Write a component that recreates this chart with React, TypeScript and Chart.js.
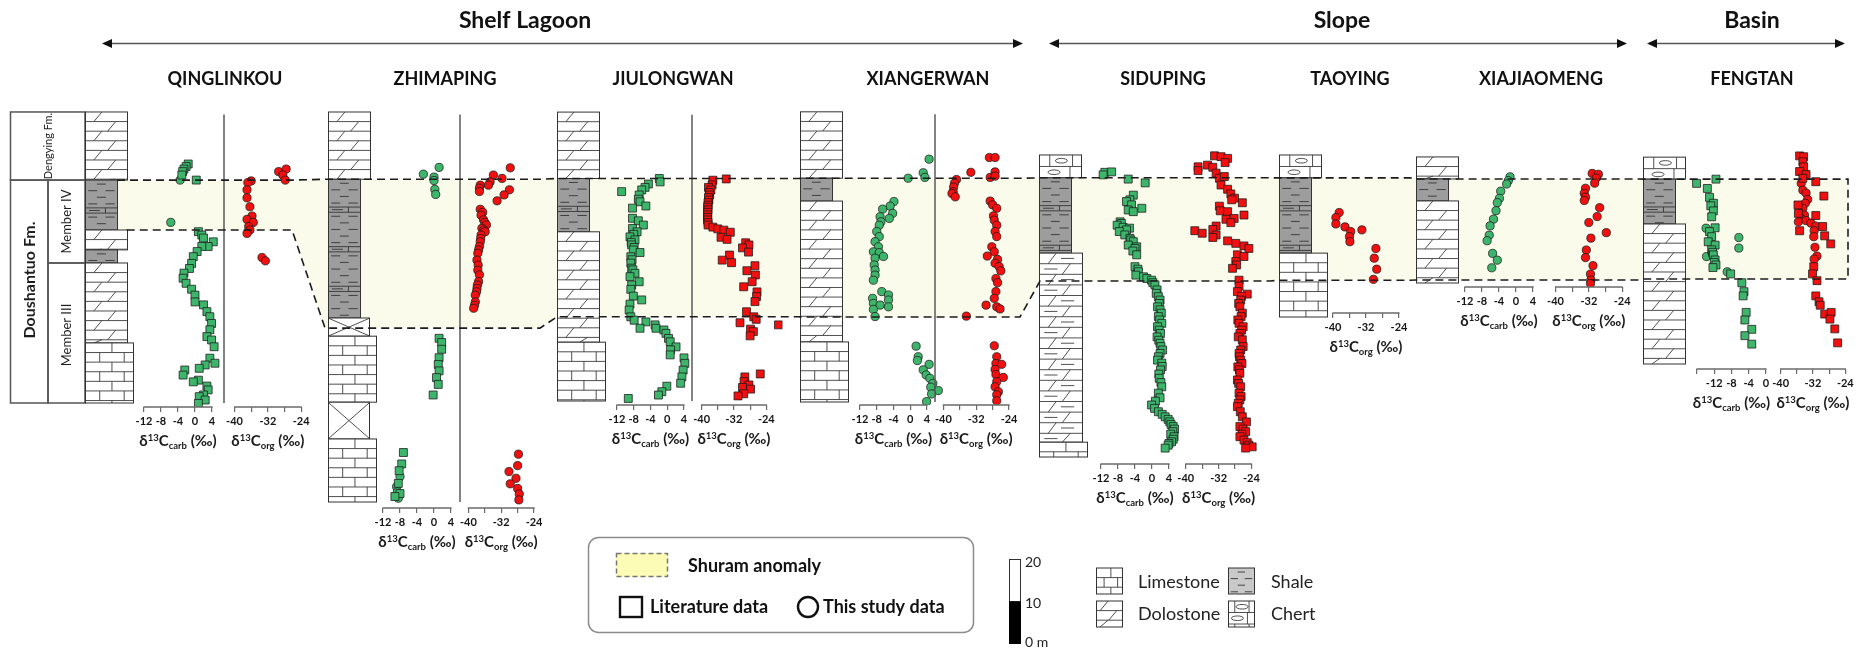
import React, { useEffect, useRef } from 'react';
import { Chart, registerables } from 'chart.js';

Chart.register(...registerables);

type Pt = [number, number]; // [delta13C (permil), height above section base (m)]
type Unit = [number, number, string]; // [top m, base m, lithology]

// ---------------- text / tick labels ----------------
const REGION_NAMES = ['Shelf Lagoon', 'Slope', 'Basin'];
const SECTION_NAMES = ['QINGLINKOU', 'ZHIMAPING', 'JIULONGWAN', 'XIANGERWAN', 'SIDUPING', 'TAOYING', 'XIAJIAOMENG', 'FENGTAN'];
const STRAT_LABELS = ['Dengying Fm.', 'Doushantuo Fm.', 'Member IV', 'Member III'];
const LEGEND_TEXT = ['Shuram anomaly', 'Literature data', 'This study data'];
const LITH_LEGEND = ['Limestone', 'Dolostone', 'Shale', 'Chert'];
const SCALE_BAR_LABELS = ['20', '10', '0 m'];
const CARB_TICKS = [-12, -8, -4, 0, 4];
const CARB_LABELS = [-12, -8, -4, 0, 4];
const ORG_TICKS = [-40, -36, -32, -28, -24];
const ORG_LABELS = [-40, -32, -24];
const FT_CARB_TICKS = [-16, -12, -8, -4, 0];
const FT_CARB_LABELS = [-12, -8, -4, 0];

// ---------------- lithology (m above base) ----------------
const QLK_LITH: Unit[] = [[68.8, 52.7, 'dolo'], [52.7, 40.9, 'shale'], [40.9, 36.2, 'dolo'], [36.2, 33.1, 'shale'], [33.1, 14.2, 'dolo'], [14.2, 0, 'lime']];
const ZMP_LITH: Unit[] = [[92.2, 76.3, 'dolo'], [76.3, 43.5, 'shale'], [43.5, 39.2, 'cover'], [39.2, 23.6, 'lime'], [23.6, 14.9, 'cover'], [14.9, 0, 'lime']];
const JLW_LITH: Unit[] = [[68.3, 52.6, 'dolo'], [52.6, 40.0, 'shale'], [40.0, 13.9, 'dolo'], [13.9, 0, 'lime']];
const XEW_LITH: Unit[] = [[68.6, 52.9, 'dolo'], [52.9, 47.5, 'shale'], [47.5, 14.2, 'dolo'], [14.2, 0, 'lime']];
const SDP_LITH: Unit[] = [[71.4, 66.0, 'chert'], [66.0, 48.2, 'shale'], [48.2, 3.5, 'argDolo'], [3.5, 0, 'lime']];
const TY_LITH: Unit[] = [[38.3, 32.9, 'chert'], [32.9, 15.1, 'shale'], [15.1, 0, 'lime']];
const XJM_LITH: Unit[] = [[29.8, 24.6, 'dolo'], [24.6, 19.4, 'shale'], [19.4, 0, 'dolo']];
const FT_LITH: Unit[] = [[48.9, 43.7, 'chert'], [43.7, 33.1, 'shale'], [33.1, 0, 'dolo']];

// Shuram anomaly interval per section (m)
const SHURAM_TOP = [52.7, 76.3, 52.6, 52.9, 66.0, 32.9, 24.6, 43.7];
const SHURAM_BASE = [40.9, 41.1, 19.9, 20.1, 41.6, 8.7, 0.7, 20.1];

// ---------------- isotope data ----------------
const QLK_CARB_LIT: Pt[] = [[-1.6, 56.5], [-2.1, 55.9], [-2.6, 55.3], [-2.9, 54.7], [-3.1, 53.9], [0.3, 52.7], [0.8, 40.5], [1.6, 39.7], [2.0, 39.0], [4.3, 38.1], [3.1, 37.0], [1.6, 37.0], [0.5, 35.8], [-0.4, 34.6], [-0.8, 33.0], [-1.3, 31.8], [-2.6, 30.7], [-2.8, 29.5], [-2.1, 28.3], [-0.8, 26.9], [0.0, 25.5], [0.0, 23.9], [2.0, 23.2], [2.8, 21.6], [3.5, 20.4], [3.9, 18.8], [3.5, 17.3], [2.8, 15.7], [3.9, 14.9], [4.5, 13.3], [3.5, 10.6], [4.7, 9.4], [2.4, 9.0], [1.0, 8.2], [-2.4, 7.8], [-2.8, 6.6], [0.8, 5.4], [-0.4, 5.0], [2.8, 4.0], [3.1, 3.1], [2.0, 1.9], [1.0, 1.5], [2.4, 0.7], [0.8, -0.1]];
const QLK_CARB_NEW: Pt[] = [[-3.5, 52.7], [-5.7, 42.7]];
const QLK_ORG_LIT: Pt[] = [];
const QLK_ORG_NEW: Pt[] = [[-29.4, 54.7], [-27.6, 55.3], [-28.4, 53.9], [-27.8, 52.7], [-36.0, 52.5], [-36.8, 52.1], [-37.0, 50.4], [-37.0, 48.5], [-36.3, 46.4], [-35.8, 44.2], [-37.0, 43.4], [-35.5, 42.7], [-36.6, 41.7], [-36.3, 40.9], [-37.0, 40.1], [-33.4, 34.4], [-32.6, 33.6]];

const ZMP_CARB_LIT: Pt[] = [[1.2, 38.7], [1.8, 37.7], [1.8, 36.1], [1.2, 34.1], [1.0, 32.5], [1.2, 31.0], [0.6, 29.4], [1.0, 27.8], [-0.2, 25.3], [-7.2, 11.7], [-7.6, 9.0], [-8.2, 7.4], [-8.4, 4.4], [-8.0, 2.0], [-9.2, 1.3]];
const ZMP_CARB_NEW: Pt[] = [[1.2, 79.1], [-2.5, 77.5], [0.0, 76.8], [0.0, 76.0], [0.2, 73.9], [0.4, 72.7], [-8.0, 6.0], [-8.8, 3.6], [-8.6, 2.4], [-8.4, 0.9]];
const ZMP_ORG_LIT: Pt[] = [];
const ZMP_ORG_NEW: Pt[] = [[-29.8, 79.0], [-33.9, 77.3], [-31.8, 76.5], [-34.7, 75.7], [-35.1, 74.9], [-37.1, 74.9], [-37.3, 74.2], [-37.3, 73.4], [-30.0, 73.8], [-31.3, 72.6], [-33.0, 71.2], [-37.1, 69.2], [-36.5, 68.5], [-36.9, 67.8], [-36.3, 66.7], [-36.0, 66.1], [-35.6, 65.5], [-36.7, 64.7], [-36.2, 64.3], [-35.9, 63.9], [-36.9, 63.1], [-37.0, 62.3], [-37.1, 61.5], [-37.3, 60.4], [-37.5, 59.6], [-37.7, 58.8], [-37.9, 57.2], [-37.6, 56.0], [-37.7, 54.8], [-37.3, 53.7], [-37.5, 52.1], [-37.8, 51.3], [-37.9, 50.5], [-38.0, 49.7], [-38.3, 48.9], [-38.3, 47.3], [-38.5, 46.5], [-38.7, 45.8], [-27.8, 11.3], [-28.0, 8.6], [-30.1, 7.2], [-28.4, 5.6], [-29.8, 4.3], [-28.0, 3.2], [-27.6, 1.9], [-27.7, 0.5]];

const JLW_CARB_LIT: Pt[] = [[-1.9, 52.6], [-1.7, 51.8], [-4.5, 51.3], [-5.3, 50.5], [-6.1, 49.9], [-10.9, 49.5], [-6.7, 48.7], [-6.9, 47.7], [-6.5, 47.1], [-5.1, 46.1], [-8.3, 45.6], [-8.3, 43.2], [-6.9, 42.6], [-5.7, 41.6], [-8.3, 40.8], [-7.2, 40.0], [-8.0, 39.4], [-8.9, 38.8], [-7.7, 38.1], [-8.6, 37.5], [-8.5, 36.9], [-7.9, 36.3], [-8.1, 35.7], [-6.5, 35.1], [-8.7, 34.1], [-8.4, 33.4], [-8.7, 32.6], [-8.5, 31.4], [-8.2, 31.0], [-7.7, 30.2], [-8.9, 29.4], [-6.7, 28.2], [-8.5, 27.4], [-8.7, 26.4], [-8.1, 24.8], [-6.1, 23.9], [-8.9, 22.9], [-9.1, 21.5], [-8.7, 19.9], [-7.9, 19.1], [-5.1, 18.7], [-2.9, 18.0], [-6.5, 17.2], [-2.7, 17.2], [-0.8, 16.8], [-0.3, 16.0], [0.3, 14.8], [0.7, 14.0], [2.1, 12.8], [0.8, 12.1], [0.7, 10.9], [4.0, 10.2], [4.2, 8.9], [3.8, 7.3], [3.5, 5.7], [3.2, 4.2], [-0.1, 3.5], [-1.3, 2.2], [-2.1, 1.4], [-9.3, 0.6]];
const JLW_CARB_NEW: Pt[] = [];
const JLW_ORG_LIT: Pt[] = [[-37.2, 52.2], [-33.9, 52.5], [-37.4, 51.1], [-38.3, 50.5], [-37.7, 49.9], [-38.1, 49.3], [-38.0, 48.7], [-38.3, 48.1], [-38.2, 47.5], [-38.4, 46.9], [-38.4, 46.3], [-38.5, 45.8], [-38.4, 45.2], [-38.5, 44.6], [-38.5, 44.0], [-38.5, 43.4], [-38.5, 42.8], [-38.4, 42.2], [-38.4, 41.6], [-37.2, 41.1], [-36.0, 40.7], [-34.5, 40.4], [-32.9, 39.9], [-35.2, 38.7], [-33.7, 38.2], [-29.1, 37.4], [-28.3, 36.9], [-29.9, 36.2], [-28.4, 35.2], [-33.1, 34.5], [-34.9, 33.3], [-32.6, 32.7], [-26.8, 32.0], [-28.8, 30.8], [-26.7, 29.8], [-27.5, 28.2], [-29.6, 27.0], [-26.3, 25.8], [-26.4, 24.7], [-26.8, 23.5], [-28.9, 21.1], [-27.1, 19.9], [-26.5, 19.3], [-30.5, 18.5], [-21.0, 18.0], [-27.9, 17.0], [-27.2, 16.4], [-28.0, 15.4], [-25.5, 6.4], [-29.3, 5.7], [-29.5, 4.6], [-28.3, 3.8], [-29.9, 3.2], [-27.9, 2.8], [-29.6, 1.7], [-31.0, 1.2]];
const JLW_ORG_NEW: Pt[] = [];

const XEW_CARB_LIT: Pt[] = [];
const XEW_CARB_NEW: Pt[] = [[4.5, 57.4], [3.1, 54.2], [3.5, 53.1], [-0.5, 52.9], [-3.9, 47.4], [-4.8, 46.3], [-6.6, 45.6], [-4.2, 44.6], [-5.0, 43.4], [-7.2, 43.8], [-7.0, 42.6], [-7.4, 41.8], [-8.0, 40.3], [-7.4, 39.1], [-8.4, 37.9], [-7.6, 36.7], [-8.8, 35.5], [-7.4, 35.3], [-6.4, 34.4], [-8.4, 34.0], [-8.6, 32.4], [-8.4, 31.2], [-8.4, 30.0], [-8.8, 28.8], [-6.8, 26.1], [-5.2, 25.3], [-5.2, 24.1], [-9.0, 24.5], [-8.8, 23.3], [-7.2, 22.9], [-5.2, 22.5], [-8.8, 21.9], [-8.4, 20.2], [1.4, 13.2], [1.9, 10.7], [1.7, 9.8], [4.5, 8.9], [3.1, 7.6], [3.8, 6.4], [4.7, 5.6], [5.4, 4.4], [4.9, 3.5], [6.7, 2.7], [5.1, 1.9], [3.9, 0.1]];
const XEW_ORG_LIT: Pt[] = [];
const XEW_ORG_NEW: Pt[] = [[-28.8, 57.8], [-27.4, 57.8], [-33.3, 54.3], [-27.4, 54.4], [-28.6, 53.1], [-27.4, 53.4], [-36.8, 52.6], [-37.3, 51.7], [-37.5, 50.8], [-37.6, 49.7], [-37.9, 49.3], [-37.1, 48.5], [-28.6, 47.5], [-28.0, 46.6], [-27.0, 45.8], [-27.8, 44.0], [-27.6, 43.0], [-27.0, 41.8], [-27.4, 40.3], [-27.0, 39.1], [-28.2, 36.7], [-27.6, 35.5], [-29.3, 34.5], [-26.8, 33.7], [-27.4, 32.8], [-26.4, 32.0], [-26.0, 31.0], [-27.2, 29.2], [-26.8, 28.2], [-27.2, 26.1], [-27.6, 24.5], [-29.6, 22.9], [-27.0, 22.5], [-26.2, 22.0], [-34.4, 20.3], [-27.6, 13.3], [-27.0, 10.7], [-27.2, 9.1], [-25.8, 8.9], [-27.4, 7.7], [-27.2, 6.5], [-25.4, 5.8], [-27.0, 4.8], [-27.4, 3.6], [-26.6, 2.4], [-27.0, 1.7], [-27.0, 0.3]];

const SDP_CARB_LIT: Pt[] = [[-11.1, 67.3], [-9.5, 67.4], [-11.5, 66.7], [-5.6, 65.7], [-1.6, 64.8], [-4.4, 61.9], [-5.2, 60.8], [-6.0, 60.4], [-4.8, 59.6], [-2.4, 58.8], [-5.6, 58.4], [-4.4, 58.0], [-7.5, 55.6], [-7.2, 55.2], [-8.2, 54.8], [-6.8, 54.3], [-5.3, 54.1], [-6.0, 53.7], [-7.7, 53.3], [-6.4, 52.5], [-5.2, 51.7], [-5.0, 51.3], [-4.4, 50.9], [-5.6, 50.1], [-3.6, 49.7], [-4.0, 49.3], [-4.5, 48.7], [-3.6, 47.8], [-4.0, 45.0], [-3.3, 44.4], [-3.2, 43.8], [-3.8, 43.0], [-2.0, 42.6], [-1.2, 42.2], [-0.1, 41.8], [0.2, 41.2], [0.7, 40.7], [1.2, 39.5], [1.0, 38.7], [1.5, 37.9], [1.9, 37.1], [1.7, 36.3], [1.3, 35.5], [1.9, 34.8], [2.2, 34.0], [1.5, 33.2], [1.8, 32.4], [2.3, 31.6], [1.3, 30.8], [1.7, 30.0], [2.0, 29.2], [1.2, 28.4], [1.6, 27.6], [1.9, 26.9], [2.1, 26.1], [2.5, 25.3], [1.9, 24.5], [1.5, 23.7], [1.3, 22.9], [2.3, 22.2], [2.4, 21.4], [2.0, 20.6], [1.6, 19.6], [1.7, 18.6], [2.1, 17.6], [2.3, 16.6], [1.5, 15.1], [1.9, 14.0], [0.8, 13.2], [-0.1, 12.3], [0.6, 11.5], [1.5, 10.7], [2.4, 10.1], [3.1, 9.5], [3.8, 8.9], [4.2, 8.3], [4.5, 7.7], [5.0, 7.2], [5.3, 6.6], [4.9, 6.0], [4.4, 5.4], [5.2, 4.8], [5.0, 4.2], [4.6, 3.6], [4.0, 3.2], [3.8, 2.8], [3.1, 2.1]];
const SDP_CARB_NEW: Pt[] = [];
const SDP_ORG_LIT: Pt[] = [[-33.0, 71.2], [-31.4, 71.0], [-29.8, 70.6], [-30.4, 69.6], [-34.7, 69.0], [-37.0, 68.6], [-37.0, 67.7], [-33.4, 68.5], [-32.6, 67.1], [-31.8, 65.9], [-30.6, 66.3], [-31.4, 64.3], [-29.8, 63.3], [-29.0, 62.2], [-28.1, 61.2], [-26.2, 60.1], [-28.8, 60.8], [-31.8, 59.3], [-31.6, 58.2], [-29.8, 58.0], [-25.8, 57.2], [-30.2, 56.2], [-28.2, 56.4], [-29.0, 55.4], [-32.6, 54.6], [-33.4, 53.8], [-37.8, 53.5], [-36.0, 52.9], [-32.6, 52.5], [-33.4, 51.9], [-29.8, 51.1], [-27.8, 50.5], [-25.8, 49.9], [-24.6, 49.3], [-27.4, 47.8], [-25.8, 47.4], [-27.8, 46.2], [-27.6, 45.4], [-28.6, 44.6], [-27.0, 41.8], [-27.0, 40.4], [-27.4, 39.1], [-25.0, 38.5], [-26.4, 38.0], [-26.6, 37.1], [-27.1, 36.3], [-26.8, 35.5], [-26.2, 34.0], [-26.5, 33.2], [-27.3, 32.4], [-27.0, 31.6], [-26.0, 30.8], [-26.4, 30.0], [-26.8, 29.2], [-27.2, 28.4], [-26.2, 27.7], [-26.0, 26.1], [-26.6, 25.3], [-27.0, 24.5], [-26.9, 23.7], [-26.6, 22.9], [-26.3, 22.1], [-27.3, 21.3], [-26.9, 20.6], [-26.8, 19.8], [-27.4, 18.2], [-27.1, 17.4], [-26.6, 16.6], [-27.0, 15.1], [-26.5, 14.3], [-26.8, 13.5], [-27.2, 12.7], [-27.4, 11.9], [-26.7, 10.7], [-26.2, 9.5], [-25.2, 8.3], [-26.8, 7.2], [-26.0, 6.6], [-25.4, 6.0], [-26.3, 5.4], [-26.8, 4.8], [-25.8, 4.0], [-25.0, 3.4], [-24.6, 2.8], [-23.8, 2.4], [-25.4, 2.1]];
const SDP_ORG_NEW: Pt[] = [];

const TY_ORG_LIT: Pt[] = [];
const TY_ORG_NEW: Pt[] = [[-38.5, 24.7], [-39.3, 23.5], [-39.3, 22.0], [-37.1, 21.3], [-35.7, 20.2], [-33.0, 20.6], [-36.0, 19.0], [-35.9, 17.8], [-29.6, 16.2], [-30.0, 13.9], [-29.4, 11.3], [-30.2, 8.9]];

const XJM_CARB_LIT: Pt[] = [];
const XJM_CARB_NEW: Pt[] = [[-1.4, 25.1], [-1.8, 24.2], [-2.2, 23.4], [-3.6, 21.7], [-3.9, 20.0], [-4.4, 19.0], [-4.7, 17.1], [-5.3, 15.1], [-6.1, 13.5], [-6.3, 11.3], [-6.8, 10.0], [-5.5, 7.0], [-4.4, 5.4], [-5.7, 3.6]];
const XJM_ORG_LIT: Pt[] = [];
const XJM_ORG_NEW: Pt[] = [[-31.2, 25.9], [-29.7, 25.7], [-30.2, 24.8], [-30.6, 23.6], [-32.8, 22.4], [-33.1, 21.2], [-32.8, 20.3], [-33.1, 19.5], [-29.4, 17.8], [-30.0, 15.7], [-32.0, 14.3], [-27.8, 11.9], [-31.5, 10.6], [-32.6, 7.8], [-32.8, 6.0], [-31.0, 4.1], [-31.6, 2.1], [-31.5, 0.7], [-31.6, -0.1]];

const FT_CARB_LIT: Pt[] = [[-16.1, 42.7], [-11.6, 43.7], [-13.6, 41.5], [-13.1, 39.4], [-12.2, 38.0], [-12.8, 37.4], [-12.2, 36.2], [-12.6, 34.8], [-11.8, 32.2], [-13.1, 31.3], [-12.6, 30.1], [-13.4, 28.9], [-11.8, 28.1], [-12.6, 27.0], [-12.4, 26.4], [-12.2, 25.8], [-11.8, 24.6], [-12.0, 24.0], [-11.6, 23.4], [-12.3, 22.8], [-8.2, 21.3], [-5.6, 19.2], [-5.1, 17.1], [-5.3, 16.1], [-4.6, 12.2], [-4.9, 10.4], [-3.3, 8.2], [-4.9, 6.7], [-3.3, 4.7]];
const FT_CARB_NEW: Pt[] = [[-13.9, 32.1], [-13.8, 25.4], [-6.3, 29.9], [-6.3, 27.4], [-9.0, 21.8]];
const FT_ORG_LIT: Pt[] = [[-35.3, 49.2], [-34.3, 49.0], [-34.5, 47.8], [-34.3, 46.6], [-35.3, 45.5], [-33.7, 44.8], [-34.5, 43.9], [-31.3, 43.1], [-29.3, 39.7], [-35.7, 37.6], [-35.6, 35.6], [-31.3, 35.1], [-29.6, 32.5], [-35.3, 31.5], [-29.1, 30.3], [-27.6, 28.4], [-31.8, 23.0], [-32.1, 21.3], [-31.0, 19.7], [-31.3, 16.1], [-30.5, 14.7], [-30.2, 13.9], [-29.1, 11.8], [-27.5, 12.2], [-27.8, 10.6], [-26.6, 8.3], [-25.9, 5.0]];
const FT_ORG_NEW: Pt[] = [[-34.9, 42.7], [-34.5, 41.1], [-33.7, 40.4], [-33.3, 38.9], [-33.9, 38.0], [-34.5, 36.8], [-34.1, 35.2], [-34.9, 34.4], [-35.6, 33.6], [-33.7, 33.9], [-32.5, 33.3], [-31.3, 32.6], [-31.7, 31.5], [-31.8, 30.1], [-31.5, 27.6], [-31.0, 25.5], [-31.7, 24.8]];

// ---------------- layout / style ----------------
const FONT = 'Lato, "Noto Sans", "DejaVu Sans", sans-serif';
const PXM = 4.23; // pixels per metre
const GREEN = '#3db56b';
const RED = '#f10f0f';
const PT_BORDER = 'rgba(25,25,25,0.95)';
const AXIS_COLOR = '#6a6a6a';
const BAND_FILL = '#fbfbeb';
const SHALE_FILL = '#9d9d9d';
const EXT = 4;
const H_AX = 60;
const W = 1857;
const H = 649;

const LITH_W: Record<string, number> = { lime: 49, dolo: 43, shale: 33, chert: 43, argDolo: 44, cover: 42 };

const LAYOUT = [
  { nameX: 225, colLeft: 85, base: 403, axisY: 407, carb: [144, 212], org: [234, 301], vlineX: 224, band: [85, 292] },
  { nameX: 445, colLeft: 328, base: 502, axisY: 508, carb: [383, 451], org: [468, 534], vlineX: 460, band: [325, 540] },
  { nameX: 673, colLeft: 557, base: 401, axisY: 405, carb: [617, 684], org: [700, 766], vlineX: 692, band: [557, 800] },
  { nameX: 928, colLeft: 800, base: 402, axisY: 405, carb: [860, 927], org: [943, 1009], vlineX: 935, band: [800, 1020] },
  { nameX: 1163, colLeft: 1039, base: 457, axisY: 464, carb: [1101, 1169], org: [1184, 1251], vlineX: 0, band: [1040, 1270] },
  { nameX: 1350, colLeft: 1279, base: 317, axisY: 313, carb: null, org: [1333, 1399], vlineX: 0, band: [1279, 1410] },
  { nameX: 1541, colLeft: 1416, base: 283, axisY: 287, carb: [1465, 1533], org: [1555, 1622], vlineX: 0, band: [1416, 1640] },
  { nameX: 1752, colLeft: 1643, base: 364, axisY: 369, carb: [1697, 1766], org: [1779, 1845], vlineX: 0, band: [1643, 1848] },
];
const LITHS = [QLK_LITH, ZMP_LITH, JLW_LITH, XEW_LITH, SDP_LITH, TY_LITH, XJM_LITH, FT_LITH];

const PANEL_DEFS = [
  { sec: 0, kind: 'carb', ticks: CARB_TICKS, labels: CARB_LABELS, lit: QLK_CARB_LIT, neu: QLK_CARB_NEW },
  { sec: 0, kind: 'org', ticks: ORG_TICKS, labels: ORG_LABELS, lit: QLK_ORG_LIT, neu: QLK_ORG_NEW },
  { sec: 1, kind: 'carb', ticks: CARB_TICKS, labels: CARB_LABELS, lit: ZMP_CARB_LIT, neu: ZMP_CARB_NEW },
  { sec: 1, kind: 'org', ticks: ORG_TICKS, labels: ORG_LABELS, lit: ZMP_ORG_LIT, neu: ZMP_ORG_NEW },
  { sec: 2, kind: 'carb', ticks: CARB_TICKS, labels: CARB_LABELS, lit: JLW_CARB_LIT, neu: JLW_CARB_NEW },
  { sec: 2, kind: 'org', ticks: ORG_TICKS, labels: ORG_LABELS, lit: JLW_ORG_LIT, neu: JLW_ORG_NEW },
  { sec: 3, kind: 'carb', ticks: CARB_TICKS, labels: CARB_LABELS, lit: XEW_CARB_LIT, neu: XEW_CARB_NEW },
  { sec: 3, kind: 'org', ticks: ORG_TICKS, labels: ORG_LABELS, lit: XEW_ORG_LIT, neu: XEW_ORG_NEW },
  { sec: 4, kind: 'carb', ticks: CARB_TICKS, labels: CARB_LABELS, lit: SDP_CARB_LIT, neu: SDP_CARB_NEW },
  { sec: 4, kind: 'org', ticks: ORG_TICKS, labels: ORG_LABELS, lit: SDP_ORG_LIT, neu: SDP_ORG_NEW },
  { sec: 5, kind: 'org', ticks: ORG_TICKS, labels: ORG_LABELS, lit: TY_ORG_LIT, neu: TY_ORG_NEW },
  { sec: 6, kind: 'carb', ticks: CARB_TICKS, labels: CARB_LABELS, lit: XJM_CARB_LIT, neu: XJM_CARB_NEW },
  { sec: 6, kind: 'org', ticks: ORG_TICKS, labels: ORG_LABELS, lit: XJM_ORG_LIT, neu: XJM_ORG_NEW },
  { sec: 7, kind: 'carb', ticks: FT_CARB_TICKS, labels: FT_CARB_LABELS, lit: FT_CARB_LIT, neu: FT_CARB_NEW },
  { sec: 7, kind: 'org', ticks: ORG_TICKS, labels: ORG_LABELS, lit: FT_ORG_LIT, neu: FT_ORG_NEW },
];

function geometry(d: any, first: boolean) {
  const s: any = LAYOUT[d.sec];
  const total = LITHS[d.sec][0][0];
  const [x0, x1] = d.kind === 'carb' ? s.carb : s.org;
  const min = d.ticks[0];
  const max = d.ticks[d.ticks.length - 1];
  const pxu = (x1 - x0) / (max - min);
  const caL = x0 - EXT * pxu;
  const caR = x1 + EXT * pxu;
  const caT = s.base - total * PXM - 10;
  const caB = s.axisY;
  const left = Math.floor(first ? Math.min(s.colLeft - 6, caL - 4) : caL - 4);
  const right = Math.ceil(caR + 26);
  const top = Math.floor(caT - 12);
  return {
    left, top, width: right - left, height: caB - top + H_AX,
    padL: caL - left, padR: right - caR, padT: caT - top,
    xMin: min - EXT, xMax: max + EXT, min, max,
    yMin: (s.base - caB) / PXM, yMax: (s.base - caT) / PXM,
  };
}

const PANELS = PANEL_DEFS.map((d, i) => {
  const first = PANEL_DEFS.findIndex((e) => e.sec === d.sec) === i;
  return { ...d, first, g: geometry(d, first) };
});

// ---------------- drawing helpers ----------------
function seg(ctx: CanvasRenderingContext2D, ax: number, ay: number, bx: number, by: number) {
  ctx.beginPath();
  ctx.moveTo(ax, ay);
  ctx.lineTo(bx, by);
  ctx.stroke();
}

function drawLith(ctx: CanvasRenderingContext2D, type: string, x: number, y0: number, w: number, y1: number, shaleFill = SHALE_FILL) {
  const h = y1 - y0;
  if (h <= 0.5) return;
  ctx.save();
  ctx.beginPath();
  ctx.rect(x, y0, w, h);
  ctx.clip();
  ctx.fillStyle = type === 'shale' ? shaleFill : '#ffffff';
  ctx.fillRect(x, y0, w, h);
  ctx.strokeStyle = '#3c3c3c';
  ctx.lineWidth = 0.9;
  if (type === 'shale') {
    ctx.strokeStyle = '#353535';
    const row = 6.6;
    let i = 0;
    for (let yy = y0 + 4; yy < y1 - 1; yy += row, i++) {
      if (i % 6 === 4) {
        seg(ctx, x, yy - 2.6, x + w, yy - 2.6);
        seg(ctx, x, yy + 2.6, x + w, yy + 2.6);
        seg(ctx, x + w * 0.62, yy - 2.6, x + w * 0.62, yy + 2.6);
        seg(ctx, x + w * 0.12, yy, x + w * 0.45, yy);
      } else {
        const a = i % 2 ? 0.1 : 0.36;
        seg(ctx, x + w * a, yy, x + w * (a + 0.27), yy);
        if (i % 2) seg(ctx, x + w * 0.62, yy, x + w * 0.9, yy);
      }
    }
  } else if (type === 'cover') {
    seg(ctx, x, y0, x + w, y1);
    seg(ctx, x + w, y0, x, y1);
  } else {
    const row = type === 'chert' ? 11.5 : type === 'argDolo' ? 10.6 : 9.6;
    let i = 0;
    for (let yy = y0; yy < y1 - 0.5; yy += row, i++) {
      const yb = yy + row;
      if (yb < y1 - 0.5) seg(ctx, x, yb, x + w, yb);
      const ym = Math.min(yb, y1);
      if (type === 'lime') {
        (i % 2 ? [0.3, 0.8] : [0.55]).forEach((o) => seg(ctx, x + w * o, yy, x + w * o, ym));
      } else if (type === 'dolo' || type === 'argDolo') {
        const o = i % 2 ? 0.62 : 0.3;
        seg(ctx, x + w * o - 4, ym, x + w * o + 4, yy);
        if (type === 'argDolo') {
          const d = i % 2 ? 0.12 : 0.5;
          seg(ctx, x + w * d, yy + row * 0.5, x + w * (d + 0.3), yy + row * 0.5);
        }
      } else if (type === 'chert') {
        (i % 2 ? [0.72] : [0.25, 0.78]).forEach((o) => seg(ctx, x + w * o, yy, x + w * o, ym));
        ctx.beginPath();
        ctx.ellipse(x + w * (i % 2 ? 0.35 : 0.52), yy + row / 2, 6, 2.3, 0, 0, Math.PI * 2);
        ctx.stroke();
      }
    }
  }
  ctx.restore();
  ctx.save();
  ctx.strokeStyle = '#333';
  ctx.lineWidth = 1;
  ctx.strokeRect(x + 0.5, y0, w - 1, h);
  ctx.restore();
}

function drawIsoLabel(ctx: CanvasRenderingContext2D, cx: number, cy: number, sub: string) {
  const big = `bold 15px ${FONT}`;
  const small = `bold 9.5px ${FONT}`;
  const parts: [string, string, number][] = [['δ', big, 0], ['13', small, -5.5], ['C', big, 0], [sub, small, 3], [' (‰)', big, 0]];
  let total = 0;
  parts.forEach((p) => { ctx.font = p[1]; total += ctx.measureText(p[0]).width; });
  let x = cx - total / 2;
  ctx.fillStyle = '#1a1a1a';
  ctx.textAlign = 'left';
  ctx.textBaseline = 'alphabetic';
  parts.forEach((p) => {
    ctx.font = p[1];
    ctx.fillText(p[0], x, cy + 5 + p[2]);
    x += ctx.measureText(p[0]).width;
  });
}

function vText(ctx: CanvasRenderingContext2D, text: string, cx: number, cy: number, font: string) {
  ctx.save();
  ctx.translate(cx, cy);
  ctx.rotate(-Math.PI / 2);
  ctx.font = font;
  ctx.fillStyle = '#1e1e1e';
  ctx.textAlign = 'center';
  ctx.textBaseline = 'middle';
  ctx.fillText(text, 0, 0);
  ctx.restore();
}

function drawArrow(ctx: CanvasRenderingContext2D, x1: number, x2: number, y: number) {
  ctx.strokeStyle = '#555';
  ctx.lineWidth = 1.3;
  seg(ctx, x1 + 6, y, x2 - 6, y);
  ctx.fillStyle = '#111';
  ctx.beginPath(); ctx.moveTo(x1, y); ctx.lineTo(x1 + 10, y - 4.5); ctx.lineTo(x1 + 10, y + 4.5); ctx.closePath(); ctx.fill();
  ctx.beginPath(); ctx.moveTo(x2, y); ctx.lineTo(x2 - 10, y - 4.5); ctx.lineTo(x2 - 10, y + 4.5); ctx.closePath(); ctx.fill();
}

function roundRectPath(ctx: CanvasRenderingContext2D, x: number, y: number, w: number, h: number, r: number) {
  ctx.beginPath();
  ctx.moveTo(x + r, y);
  ctx.lineTo(x + w - r, y);
  ctx.arcTo(x + w, y, x + w, y + r, r);
  ctx.lineTo(x + w, y + h - r);
  ctx.arcTo(x + w, y + h, x + w - r, y + h, r);
  ctx.lineTo(x + r, y + h);
  ctx.arcTo(x, y + h, x, y + h - r, r);
  ctx.lineTo(x, y + r);
  ctx.arcTo(x, y, x + r, y, r);
  ctx.closePath();
}

const REGION_X = [525, 1342, 1752];
const REGION_ARROWS = [[102, 1023], [1049, 1627], [1647, 1845]];

function panelConfig(p: any) {
  const s: any = LAYOUT[p.sec];
  const g = p.g;
  const isCarb = p.kind === 'carb';
  const color = isCarb ? GREEN : RED;
  const lith = LITHS[p.sec];
  const total = lith[0][0];
  const deco = {
    id: 'panelDeco',
    beforeDatasetsDraw(chart: any) {
      const ctx = chart.ctx;
      const ys = chart.scales.y;
      if (p.first) {
        const lx = s.colLeft - g.left;
        lith.forEach(([t, b, type]) => drawLith(ctx, type, lx, ys.getPixelForValue(t), LITH_W[type], ys.getPixelForValue(b)));
      }
      if (!isCarb && s.vlineX) {
        ctx.save();
        ctx.strokeStyle = '#5a5a5a';
        ctx.lineWidth = 1.5;
        const x = s.vlineX - g.left;
        seg(ctx, x, ys.getPixelForValue(total - 0.6), x, ys.getPixelForValue(0));
        ctx.restore();
      }
    },
    afterDraw(chart: any) {
      const ctx = chart.ctx;
      const xs = chart.scales.x;
      const yb = chart.chartArea.bottom;
      const a = xs.getPixelForValue(g.min);
      const b = xs.getPixelForValue(g.max);
      ctx.save();
      ctx.strokeStyle = AXIS_COLOR;
      ctx.lineWidth = 1.3;
      seg(ctx, a - 0.6, yb, b + 0.6, yb);
      drawIsoLabel(ctx, (a + b) / 2, yb + 34, isCarb ? 'carb' : 'org');
      ctx.restore();
    },
  };
  return {
    type: 'scatter',
    data: {
      datasets: [
        { data: p.lit.map(([x, y]: Pt) => ({ x, y })), pointStyle: 'rect', pointRadius: 5.6, backgroundColor: color, borderColor: PT_BORDER, borderWidth: 0.8 },
        { data: p.neu.map(([x, y]: Pt) => ({ x, y })), pointStyle: 'circle', pointRadius: 4.1, backgroundColor: color, borderColor: PT_BORDER, borderWidth: 0.8 },
      ],
    },
    options: {
      responsive: false,
      maintainAspectRatio: false,
      animation: false,
      devicePixelRatio: 1,
      events: [],
      layout: { padding: { left: g.padL, right: g.padR, top: g.padT, bottom: 0 } },
      plugins: { legend: { display: false }, tooltip: { enabled: false } },
      scales: {
        x: {
          type: 'linear',
          position: 'bottom',
          min: g.xMin,
          max: g.xMax,
          afterBuildTicks: (sc: any) => { sc.ticks = p.ticks.map((v: number) => ({ value: v })); },
          afterFit: (sc: any) => { sc.height = H_AX; },
          ticks: {
            autoSkip: false, maxRotation: 0, minRotation: 0, padding: 3, color: '#151515',
            font: { family: FONT, size: 11, weight: 'bold' },
            callback: (v: any) => (p.labels.includes(Number(v)) ? String(v) : ''),
          },
          grid: { display: true, drawOnChartArea: false, drawTicks: true, tickLength: 5, color: AXIS_COLOR, lineWidth: 1.2 },
          border: { display: false },
        },
        y: { type: 'linear', display: false, min: g.yMin, max: g.yMax },
      },
    },
    plugins: [deco],
  };
}

function blankConfig(plugin: any) {
  return {
    type: 'scatter',
    data: { datasets: [] },
    options: {
      responsive: false, maintainAspectRatio: false, animation: false, devicePixelRatio: 1, events: [],
      layout: { padding: 0 },
      plugins: { legend: { display: false }, tooltip: { enabled: false } },
      scales: { x: { display: false }, y: { display: false } },
    },
    plugins: [plugin],
  };
}

export default function App() {
  const bgRef = useRef<HTMLCanvasElement | null>(null);
  const ovRef = useRef<HTMLCanvasElement | null>(null);
  const panelRefs = useRef<(HTMLCanvasElement | null)[]>([]);

  useEffect(() => {
    const charts: Chart[] = [];
    const secCharts: any[] = [];
    PANELS.forEach((p, i) => {
      const c = panelRefs.current[i];
      if (!c) return;
      const ch = new Chart(c, panelConfig(p) as any);
      charts.push(ch);
      if (p.first) secCharts[p.sec] = { chart: ch, top: p.g.top };
    });
    const secY = (i: number, h: number) => secCharts[i].chart.scales.y.getPixelForValue(h) + secCharts[i].top;

    const bandPaths = () => {
      const topPts: [number, number][] = [];
      const botPts: [number, number][] = [];
      LAYOUT.forEach((s, i) => {
        const yt = secY(i, SHURAM_TOP[i]);
        const yb = secY(i, SHURAM_BASE[i]);
        topPts.push([s.band[0], yt], [s.band[1], yt]);
        botPts.push([s.band[0], yb], [s.band[1], yb]);
      });
      return { topPts, botPts };
    };

    const bgPlugin = {
      id: 'bg',
      beforeDraw(chart: any) {
        const ctx: CanvasRenderingContext2D = chart.ctx;
        ctx.save();
        ctx.fillStyle = '#ffffff';
        ctx.fillRect(0, 0, W, H);
        // Shuram band fill
        const { topPts, botPts } = bandPaths();
        ctx.beginPath();
        topPts.forEach(([x, y], k) => (k ? ctx.lineTo(x, y) : ctx.moveTo(x, y)));
        for (let k = botPts.length - 1; k >= 0; k--) ctx.lineTo(botPts[k][0], botPts[k][1]);
        ctx.closePath();
        ctx.fillStyle = BAND_FILL;
        ctx.fill();

        // region titles & arrows
        ctx.fillStyle = '#111';
        ctx.textAlign = 'center';
        ctx.textBaseline = 'middle';
        ctx.font = `bold 23px ${FONT}`;
        REGION_NAMES.forEach((n, k) => ctx.fillText(n, REGION_X[k], 21));
        REGION_ARROWS.forEach(([a, b]) => drawArrow(ctx, a, b, 43.5));
        ctx.fillStyle = '#111';
        ctx.textAlign = 'center';
        ctx.textBaseline = 'middle';
        ctx.font = `bold 18px ${FONT}`;
        SECTION_NAMES.forEach((n, k) => ctx.fillText(n, LAYOUT[k].nameX, 79));

        // stratigraphic boxes (Qinglinkou)
        const yDeng = secY(0, QLK_LITH[0][0]);
        const yIV = secY(0, SHURAM_TOP[0]);
        const yIII = secY(0, QLK_LITH[3][1]);
        const yBase = secY(0, 0);
        ctx.strokeStyle = '#555';
        ctx.lineWidth = 1.5;
        ctx.strokeRect(10.5, yDeng, 74.5, yIV - yDeng);
        ctx.strokeRect(10.5, yIV, 37.5, yBase - yIV);
        ctx.strokeRect(48, yIV, 37, yIII - yIV);
        ctx.strokeRect(48, yIII, 37, yBase - yIII);
        vText(ctx, STRAT_LABELS[0], 48, (yDeng + yIV) / 2, `11px ${FONT}`);
        vText(ctx, STRAT_LABELS[1], 30, 280, `bold 16px ${FONT}`);
        vText(ctx, STRAT_LABELS[2], 67, (yIV + yIII) / 2, `13px ${FONT}`);
        vText(ctx, STRAT_LABELS[3], 67, (yIII + yBase) / 2 + 2, `13px ${FONT}`);

        // legend box
        ctx.strokeStyle = '#8c8c8c';
        ctx.lineWidth = 1.5;
        roundRectPath(ctx, 588.5, 537.5, 385, 95, 10);
        ctx.stroke();
        ctx.fillStyle = '#fdfcb6';
        ctx.fillRect(616, 553, 52, 24);
        ctx.setLineDash([5, 3]);
        ctx.strokeStyle = '#777';
        ctx.strokeRect(616.5, 553.5, 51, 23);
        ctx.setLineDash([]);
        ctx.fillStyle = '#111';
        ctx.textAlign = 'left';
        ctx.textBaseline = 'middle';
        ctx.font = `bold 18px ${FONT}`;
        ctx.fillText(LEGEND_TEXT[0], 688, 566);
        ctx.strokeStyle = '#111';
        ctx.lineWidth = 2.4;
        ctx.strokeRect(620, 597, 22, 20);
        ctx.fillText(LEGEND_TEXT[1], 650, 607);
        ctx.beginPath();
        ctx.arc(808, 607, 10, 0, Math.PI * 2);
        ctx.stroke();
        ctx.fillText(LEGEND_TEXT[2], 823, 607);

        // scale bar
        ctx.lineWidth = 1;
        ctx.strokeStyle = '#333';
        ctx.fillStyle = '#fff';
        ctx.fillRect(1009.5, 559.5, 11, 42);
        ctx.strokeRect(1009.5, 559.5, 11, 42);
        ctx.fillStyle = '#000';
        ctx.fillRect(1009, 601.5, 12, 42.5);
        ctx.fillStyle = '#222';
        ctx.font = `14px ${FONT}`;
        ctx.textBaseline = 'middle';
        ctx.fillText(SCALE_BAR_LABELS[0], 1025, 562);
        ctx.fillText(SCALE_BAR_LABELS[1], 1025, 603);
        ctx.fillText(SCALE_BAR_LABELS[2], 1025, 642);

        // lithology legend
        drawLith(ctx, 'lime', 1096, 568, 27, 594);
        drawLith(ctx, 'dolo', 1096, 601, 27, 627);
        drawLith(ctx, 'shale', 1228, 568, 27, 594, '#c9c9c9');
        drawLith(ctx, 'chert', 1228, 601, 27, 627);
        ctx.fillStyle = '#222';
        ctx.font = `18px ${FONT}`;
        ctx.textAlign = 'left';
        ctx.textBaseline = 'middle';
        ctx.fillText(LITH_LEGEND[0], 1138, 582);
        ctx.fillText(LITH_LEGEND[1], 1138, 614);
        ctx.fillText(LITH_LEGEND[2], 1271, 582);
        ctx.fillText(LITH_LEGEND[3], 1271, 614);
        ctx.restore();
      },
    };

    const ovPlugin = {
      id: 'ov',
      afterDraw(chart: any) {
        const ctx: CanvasRenderingContext2D = chart.ctx;
        const { topPts, botPts } = bandPaths();
        topPts[0] = [117, topPts[0][1]];
        botPts[0] = [124, botPts[0][1]];
        ctx.save();
        ctx.strokeStyle = '#1c1c1c';
        ctx.lineWidth = 1.6;
        ctx.setLineDash([8, 5]);
        ctx.beginPath();
        topPts.forEach(([x, y], k) => (k ? ctx.lineTo(x, y) : ctx.moveTo(x, y)));
        for (let k = botPts.length - 1; k >= 0; k--) ctx.lineTo(botPts[k][0], botPts[k][1]);
        ctx.stroke();
        ctx.restore();
      },
    };

    if (bgRef.current) charts.push(new Chart(bgRef.current, blankConfig(bgPlugin) as any));
    if (ovRef.current) charts.push(new Chart(ovRef.current, blankConfig(ovPlugin) as any));
    return () => charts.forEach((c) => c.destroy());
  }, []);

  const abs = (l: number, t: number, w: number, h: number) => ({ position: 'absolute' as const, left: l, top: t, width: w, height: h });
  return (
    <div style={{ position: 'absolute', left: 0, top: 0, width: W, height: H, background: '#fff', overflow: 'hidden' }}>
      <canvas ref={bgRef} width={W} height={H} style={abs(0, 0, W, H)} />
      {PANELS.map((p, i) => (
        <canvas
          key={i}
          ref={(el) => { panelRefs.current[i] = el; }}
          width={p.g.width}
          height={p.g.height}
          style={abs(p.g.left, p.g.top, p.g.width, p.g.height)}
        />
      ))}
      <canvas ref={ovRef} width={W} height={H} style={{ ...abs(0, 0, W, H), pointerEvents: 'none' }} />
    </div>
  );
}
